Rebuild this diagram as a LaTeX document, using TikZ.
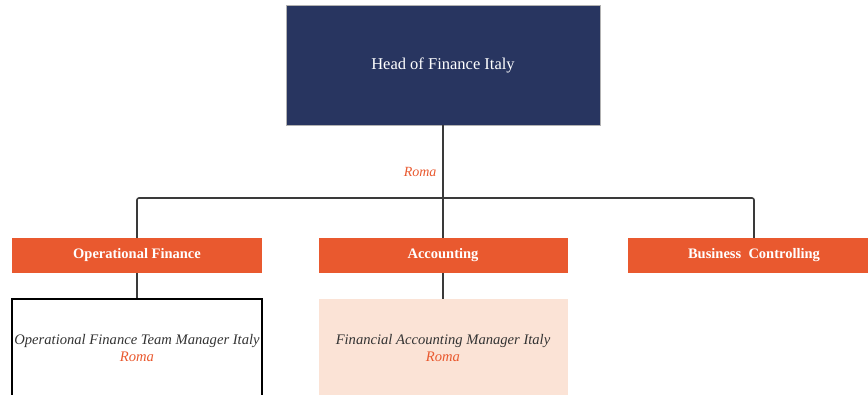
\documentclass[tikz,border=0pt]{standalone}
\usepackage{fontspec}
\setmainfont{Liberation Serif}
\definecolor{navy}{HTML}{283560}
\definecolor{rust}{HTML}{E9592F}
\definecolor{peach}{HTML}{FBE3D6}
\definecolor{wire}{HTML}{3A3A3A}
\begin{document}
\begin{tikzpicture}[x=1pt,y=1pt,
	unit/.style={fill=rust,text=white,minimum height=35pt,inner sep=0pt,
		font=\fontsize{14.5}{17}\selectfont\bfseries},
	role/.style={minimum width=250pt,minimum height=98pt,inner sep=0pt,align=center,
		text=black!80,font=\fontsize{14.6}{17}\selectfont\itshape},
	link/.style={draw=wire,line width=1.6pt}]
	\clip (0,0) rectangle (868,-394);
	% top box
	\node[fill=navy,draw=gray!60,thin,text=white,minimum width=314pt,minimum height=120pt,
		font=\fontsize{16.5}{19}\selectfont] (head) at (443,-65) {Head of Finance Italy};
	\coordinate (bar) at (443,-198);
	\node[anchor=east,text=rust,font=\fontsize{14}{17}\selectfont\itshape] (roma) at (440,-172) {Roma};
	% departments
	\node[unit,minimum width=250pt] (opfin) at (137,-255.5) {Operational Finance};
	\node[unit,minimum width=249pt] (acct) at (443,-255.5) {Accounting};
	\node[unit,minimum width=252pt] (bc) at (754,-255.5) {Business\ \ Controlling};
	% managers
	\node[role,draw=black,line width=2pt] (opmgr) at (137,-348)
		{Operational Finance Team Manager Italy\\\textcolor{rust}{Roma}};
	\node[role,fill=peach,minimum width=249pt] (acmgr) at (443,-348)
		{Financial Accounting Manager Italy\\\textcolor{rust}{Roma}};
	% connectors
	\draw[link] (head.south) -- (bar);
	\draw[link,rounded corners=2pt] (opfin.north) |- (bar) -| (bc.north);
	\draw[link] (bar) -- (acct.north);
	\draw[link] (opfin.south) -- (opmgr.north);
	\draw[link] (acct.south) -- (acmgr.north);
\end{tikzpicture}
\end{document}
